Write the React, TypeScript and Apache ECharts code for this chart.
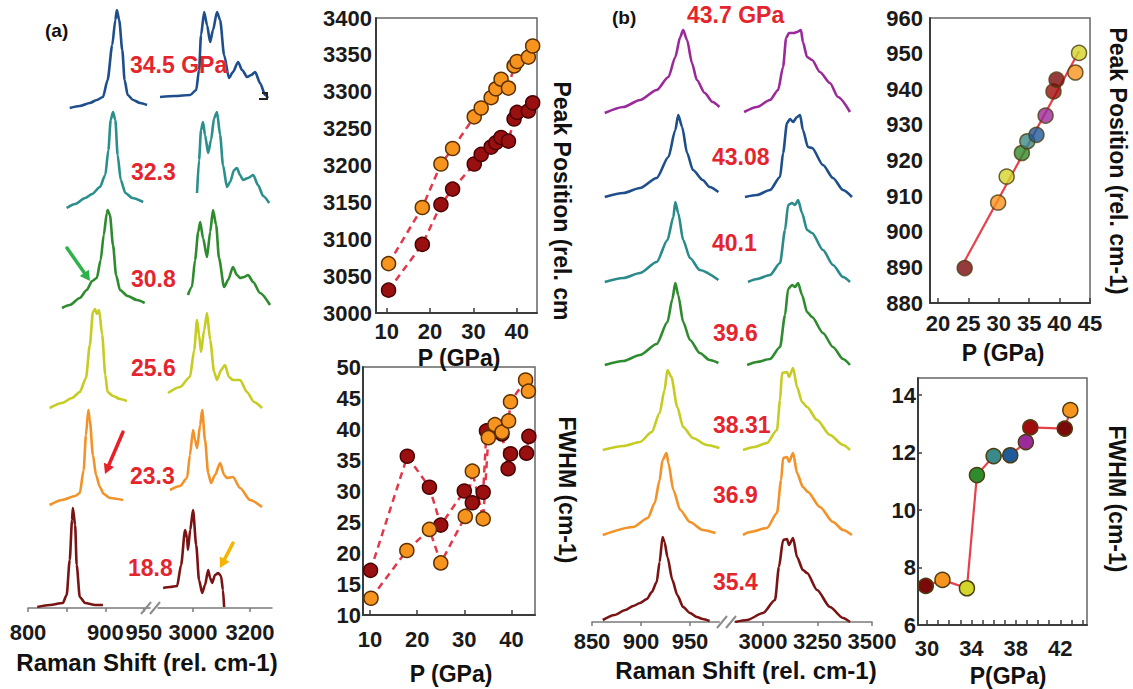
import React, { useEffect, useRef } from "react";
import * as echarts from "echarts";

type Pt = [number, number];

// ---------- (a) Raman spectra: [wavenumber (rel. cm-1), relative intensity] ----------
const aLabels = ["34.5 GPa", "32.3", "30.8", "25.6", "23.3", "18.8"];

const a345Low: Pt[] = [[854,-0.01],[867,0.01],[880,0.04],[889,0.07],[897,0.1],[903,0.27],[909,0.62],[913,0.87],[915,0.97],[918,0.87],[922,0.57],[925,0.27],[929,0.12],[936,0.07],[945,0.04],[954,0.02]];
const a345High: Pt[] = [[2884,0.1],[2937,0.11],[2990,0.12],[3011,0.17],[3021,0.37],[3028,0.72],[3039,0.95],[3049,0.82],[3060,0.65],[3070,0.77],[3084,0.95],[3095,0.87],[3109,0.52],[3126,0.29],[3140,0.35],[3158,0.45],[3172,0.37],[3190,0.3],[3204,0.32],[3218,0.35],[3235,0.24],[3253,0.12],[3263,0.09]];

const a323Low: Pt[] = [[850,-0.05],[861,-0.01],[874,0.05],[883,0.09],[893,0.16],[900,0.28],[904,0.53],[907,0.83],[910,0.91],[913,0.83],[916,0.48],[920,0.23],[926,0.1],[935,0.05],[949,0.01]];
const a323High: Pt[] = [[3014,0.1],[3021,0.43],[3028,0.73],[3035,0.81],[3042,0.68],[3053,0.5],[3063,0.63],[3074,0.85],[3084,0.91],[3095,0.68],[3105,0.38],[3119,0.16],[3130,0.21],[3144,0.33],[3154,0.35],[3165,0.28],[3175,0.23],[3193,0.25],[3211,0.28],[3228,0.18],[3246,0.07],[3267,0]];

const a308Low: Pt[] = [[844,-0.05],[854,-0.02],[867,0.05],[876,0.13],[883,0.22],[889,0.25],[894,0.43],[898,0.68],[902,0.9],[903,0.93],[906,0.88],[910,0.58],[914,0.28],[919,0.13],[929,0.07],[941,0.03],[951,0]];
const a308High: Pt[] = [[2982,0.08],[2996,0.16],[3007,0.43],[3018,0.71],[3025,0.81],[3035,0.65],[3049,0.46],[3060,0.71],[3070,0.93],[3081,0.78],[3091,0.45],[3109,0.16],[3123,0.23],[3140,0.36],[3154,0.28],[3165,0.25],[3179,0.26],[3193,0.28],[3211,0.21],[3235,0.1],[3270,-0.02]];

const a256Low: Pt[] = [[828,-0.08],[844,-0.03],[857,0.02],[867,0.08],[875,0.22],[880,0.55],[884,0.88],[887,0.91],[889,0.86],[892,0.9],[896,0.65],[900,0.25],[903,0.08],[910,0.04],[919,0.01],[928,-0.01]];
const a256High: Pt[] = [[2912,0.07],[2954,0.13],[2989,0.23],[3004,0.5],[3014,0.8],[3021,0.65],[3028,0.48],[3039,0.7],[3049,0.87],[3060,0.6],[3074,0.28],[3084,0.2],[3098,0.3],[3112,0.35],[3126,0.23],[3140,0.2],[3165,0.2],[3189,0.08],[3214,-0.02],[3242,-0.08]];

const a233Low: Pt[] = [[828,-0.05],[844,0],[861,0.04],[867,0.07],[872,0.3],[875,0.65],[878,0.9],[880,0.8],[884,0.45],[888,0.25],[893,0.13],[898,0.06],[906,0.02],[923,0]];
const a233High: Pt[] = [[2919,0.1],[2954,0.14],[2979,0.22],[2989,0.45],[3000,0.7],[3007,0.6],[3014,0.52],[3025,0.75],[3032,0.9],[3042,0.6],[3053,0.27],[3063,0.17],[3077,0.25],[3095,0.37],[3109,0.25],[3119,0.22],[3140,0.23],[3165,0.12],[3200,0],[3242,-0.07]];

const a188Low: Pt[] = [[812,-0.02],[828,0],[845,0.02],[850,0.1],[854,0.45],[857,0.85],[858,0.97],[861,0.8],[863,0.4],[867,0.08],[874,0.02],[887,0],[897,0]];
const a188High: Pt[] = [[2895,0.17],[2919,0.18],[2944,0.19],[2958,0.4],[2972,0.75],[2979,0.67],[2982,0.55],[2990,0.75],[3000,0.95],[3011,0.6],[3021,0.25],[3032,0.12],[3042,0.2],[3053,0.35],[3060,0.27],[3067,0.22],[3077,0.3],[3088,0.32],[3098,0.29],[3105,0.15],[3109,-0.02]];

const aLow = [a345Low, a323Low, a308Low, a256Low, a233Low, a188Low];
const aHigh = [a345High, a323High, a308High, a256High, a233High, a188High];
// vertical stacking of the traces (intensity units)
const aOffsets = [5.01, 4.05, 3.05, 2.08, 1.08, 0.03];
const aColors = ["#1f4e8c", "#2b8f8c", "#2e8b2e", "#c5cc22", "#f39228", "#7a1414"];

// ---------- (b) Raman spectra ----------
const bLabels = ["43.7 GPa", "43.08", "40.1", "39.6", "38.31", "36.9", "35.4"];

const b437Low: Pt[] = [[863,-0.01],[882,0.05],[899,0.12],[916,0.22],[928,0.35],[935,0.55],[940,0.75],[943,0.82],[947,0.72],[952,0.49],[957,0.32],[965,0.19],[973,0.1],[980,0.05]];
const b437High: Pt[] = [[2913,0],[2972,0.05],[3032,0.12],[3069,0.22],[3092,0.45],[3106,0.74],[3119,0.79],[3142,0.79],[3156,0.8],[3174,0.82],[3183,0.7],[3202,0.55],[3225,0.52],[3261,0.4],[3307,0.29],[3344,0.15],[3399,0]];

const b4308Low: Pt[] = [[863,0.01],[882,0.05],[899,0.1],[916,0.2],[928,0.41],[935,0.68],[938,0.83],[942,0.71],[947,0.45],[953,0.28],[963,0.18],[970,0.11],[979,0.06]];
const b4308High: Pt[] = [[2917,0.01],[2972,0.03],[3032,0.08],[3078,0.21],[3092,0.45],[3110,0.75],[3124,0.79],[3138,0.76],[3156,0.81],[3170,0.83],[3183,0.68],[3206,0.51],[3225,0.5],[3275,0.33],[3321,0.2],[3367,0.08],[3408,0.01]];

const b401Low: Pt[] = [[863,0],[882,0.04],[899,0.09],[916,0.2],[927,0.42],[933,0.65],[935,0.8],[938,0.69],[943,0.42],[950,0.24],[960,0.12],[979,0.02]];
const b401High: Pt[] = [[2931,0],[2972,0.03],[3032,0.07],[3078,0.19],[3101,0.52],[3115,0.77],[3133,0.79],[3147,0.77],[3161,0.82],[3179,0.69],[3202,0.52],[3225,0.49],[3275,0.32],[3321,0.17],[3367,0.05],[3399,0]];

const b396Low: Pt[] = [[863,0],[882,0.04],[899,0.1],[916,0.21],[927,0.43],[932,0.66],[935,0.82],[938,0.7],[943,0.43],[950,0.25],[960,0.12],[970,0.05],[979,0.02]];
const b396High: Pt[] = [[2927,0],[2972,0.03],[3032,0.06],[3078,0.18],[3101,0.5],[3115,0.76],[3133,0.8],[3147,0.78],[3161,0.82],[3179,0.7],[3202,0.53],[3225,0.48],[3275,0.32],[3321,0.18],[3367,0.06],[3399,0]];

const b3831Low: Pt[] = [[861,0],[882,0.04],[899,0.08],[911,0.18],[919,0.37],[924,0.6],[927,0.8],[931,0.73],[937,0.43],[943,0.23],[953,0.12],[967,0.05],[980,0.02]];
const b3831High: Pt[] = [[2908,0],[2960,0.03],[3018,0.07],[3064,0.2],[3078,0.5],[3087,0.77],[3110,0.78],[3119,0.73],[3138,0.82],[3156,0.63],[3179,0.48],[3202,0.43],[3248,0.3],[3307,0.15],[3367,0.05],[3399,0]];

const b369Low: Pt[] = [[861,0],[892,0.08],[907,0.17],[914,0.32],[919,0.55],[922,0.75],[926,0.82],[928,0.72],[933,0.45],[940,0.25],[950,0.13],[963,0.05],[976,0.02]];
const b369High: Pt[] = [[2908,0],[2940,0.03],[3018,0.07],[3064,0.22],[3083,0.55],[3092,0.77],[3110,0.78],[3119,0.73],[3138,0.82],[3156,0.62],[3183,0.48],[3206,0.43],[3261,0.28],[3321,0.13],[3367,0.05],[3408,0]];

const b354Low: Pt[] = [[861,0],[873,0.05],[884,0.1],[892,0.14],[899,0.17],[906,0.21],[911,0.28],[916,0.38],[919,0.58],[922,0.83],[924,0.78],[927,0.63],[932,0.4],[937,0.25],[943,0.13],[950,0.07],[957,0.03],[963,0.01],[970,-0.01]];
const b354High: Pt[] = [[2872,-0.02],[2927,0],[3000,0.07],[3055,0.2],[3073,0.53],[3092,0.8],[3110,0.81],[3119,0.75],[3138,0.82],[3156,0.63],[3183,0.5],[3202,0.47],[3248,0.3],[3307,0.13],[3367,0.02],[3399,-0.02]];

const bLow = [b437Low, b4308Low, b401Low, b396Low, b3831Low, b369Low, b354Low];
const bHigh = [b437High, b4308High, b401High, b396High, b3831High, b369High, b354High];
const bOffsets = [5.1, 4.24, 3.4, 2.57, 1.72, 0.87, 0.02];
const bColors = ["#9a2a9a", "#1f4e8c", "#2b8a8a", "#2e8b2e", "#c5cc22", "#f39228", "#7a1414"];

// ---------- (a) peak position and FWHM of the C-H band vs pressure ----------
const aPeakP = [10.4, 18.2, 22.5, 25.2, 30.2, 31.8, 34.1, 35.2, 36.4, 38.1, 39.4, 40.1, 42.7, 43.7];
const aPeakUpper = [3067, 3143, 3202, 3223, 3266, 3278, 3292, 3304, 3317, 3305, 3335, 3341, 3347, 3362];
const aPeakLower = [3031, 3093, 3147, 3168, 3202, 3215, 3225, 3231, 3238, 3233, 3263, 3272, 3274, 3285];

const aFwhmDarkP = [10.1, 17.9, 22.6, 25.0, 30.0, 31.7, 34.0, 34.7, 38.0, 39.3, 39.8, 43.2, 43.7];
const aFwhmDark = [17.2, 35.6, 30.6, 24.5, 30.0, 28.1, 29.8, 39.7, 39.2, 33.6, 36.0, 36.1, 38.8];
const aFwhmLightP = [10.2, 17.8, 22.6, 25.0, 30.2, 31.7, 34.0, 35.1, 36.5, 38.0, 39.4, 39.8, 43.0, 43.6];
const aFwhmLight = [12.7, 20.4, 23.8, 18.4, 25.9, 33.2, 25.5, 38.6, 40.7, 39.5, 41.3, 44.4, 47.9, 46.1];

// ---------- (b) peak position and FWHM of the ~900 cm-1 band vs pressure ----------
const bPeakP = [24.4, 29.9, 31.3, 33.8, 34.7, 36.2, 37.7, 39.0, 39.5, 42.6, 43.2];
const bPeak = [889.8, 908.2, 915.5, 922.1, 925.4, 927.2, 932.6, 939.4, 942.7, 944.7, 950.2];
const bFwhmP = [29.9, 31.4, 33.6, 34.5, 36.0, 37.5, 38.9, 39.3, 42.4, 42.9];
const bFwhm = [7.36, 7.57, 7.28, 11.22, 11.88, 11.91, 12.37, 12.88, 12.84, 13.48];

const markerCycle = ["#7a0a0a", "#f7941d", "#d2d62a", "#2e8b2e", "#3a8a8a", "#1f5a9a", "#9b2a9b", "#a00d0d"];

// tick labels
const aLowTicks = [800, 850, 900, 950];
const aLowLabels = [800, 900, 950];
const aHighTicks = [3000, 3200];
const bLowTicks = [850, 900, 950];
const bHighTicks = [3000, 3250, 3500];
const aPeakXTicks = [10, 20, 30, 40];
const aPeakYTicks = [3000, 3050, 3100, 3150, 3200, 3250, 3300, 3350, 3400];
const aFwhmYTicks = [10, 15, 20, 25, 30, 35, 40, 45, 50];
const bPeakXTicks = [20, 25, 30, 35, 40, 45];
const bPeakYTicks = [880, 890, 900, 910, 920, 930, 940, 950, 960];
const bFwhmXLabels = [30, 34, 38, 42];
const bFwhmXTicks = [30, 31, 32, 33, 34, 35, 36, 37, 38, 39, 40, 41, 42, 43, 44];
const bFwhmYTicks = [6, 8, 10, 12, 14];

const FONT = '"Liberation Sans", Arial, Helvetica, sans-serif';
const LABEL_RED = "#e5252d";

function linearFit(xs: number[], ys: number[]): Pt[] {
  const n = xs.length;
  const mx = xs.reduce((s, v) => s + v, 0) / n;
  const my = ys.reduce((s, v) => s + v, 0) / n;
  let sxy = 0;
  let sxx = 0;
  xs.forEach((x, i) => {
    sxy += (x - mx) * (ys[i] - my);
    sxx += (x - mx) * (x - mx);
  });
  const slope = sxy / sxx;
  const icpt = my - slope * mx;
  const x0 = Math.min(...xs);
  const x1 = Math.max(...xs);
  return [[x0, icpt + slope * x0], [x1, icpt + slope * x1]];
}

const plain = (v: number) => String(v);
const tickFont = { color: "#1a1a1a", fontSize: 22, fontWeight: "bold", fontFamily: FONT, formatter: plain, hideOverlap: false };

function specXAxis(gridIndex: number, min: number, max: number, ticks: number[], labels: number[], margin: number) {
  return {
    gridIndex, type: "value", min, max,
    axisLine: { show: true, onZero: false, lineStyle: { color: "#7a7a7a", width: 1.5 } },
    axisTick: { show: true, customValues: ticks, length: 4, lineStyle: { color: "#7a7a7a", width: 1.5 } },
    axisLabel: { customValues: labels, margin, showMinLabel: true, showMaxLabel: true, ...tickFont },
    splitLine: { show: false },
  };
}

function specYAxis(gridIndex: number, max: number) {
  return { gridIndex, type: "value", min: 0, max, show: false };
}

function plotXAxis(gridIndex: number, min: number, max: number, ticks: number[], labels: number[], margin: number) {
  return {
    gridIndex, type: "value", min, max,
    axisLine: { show: true, onZero: false, lineStyle: { color: "#3c3c3c", width: 2 } },
    axisTick: { show: true, inside: true, length: 5, customValues: ticks, lineStyle: { color: "#3c3c3c", width: 1.5 } },
    axisLabel: { customValues: labels, margin, showMinLabel: true, showMaxLabel: true, ...tickFont },
    splitLine: { show: false },
  };
}

function plotYAxis(gridIndex: number, min: number, max: number, labels: number[], margin: number, showTicks = false) {
  return {
    gridIndex, type: "value", min, max,
    axisLine: { show: true, onZero: false, lineStyle: { color: "#3c3c3c", width: 2 } },
    axisTick: { show: showTicks, inside: true, length: 4, customValues: labels, lineStyle: { color: "#3c3c3c", width: 1.5 } },
    axisLabel: { customValues: labels, margin, padding: [11, 0, 0, 0], showMinLabel: true, showMaxLabel: true, ...tickFont },
    splitLine: { show: false },
  };
}

function specLine(axis: number, pts: Pt[], offset: number, color: string) {
  return {
    type: "line", xAxisIndex: axis, yAxisIndex: axis,
    data: pts.map(([w, v]) => [w, v + offset]),
    symbol: "none", smooth: 0.25, smoothMonotone: "x", silent: true,
    lineStyle: { color, width: 2.6 }, z: 2,
  };
}

function text(x: number, y: number, str: string, opts: any = {}) {
  const align = opts.align ?? "center";
  return {
    type: "text", x, y, rotation: opts.rotation ?? 0, z: 20, silent: true,
    style: {
      text: str, fill: opts.color ?? "#111",
      fontSize: opts.size ?? 23, fontWeight: "bold", fontFamily: FONT,
      align, textAlign: align, verticalAlign: "middle", textVerticalAlign: "middle",
    },
  };
}

function arrow(x1: number, y1: number, x2: number, y2: number, color: string) {
  const dx = x2 - x1;
  const dy = y2 - y1;
  const len = Math.hypot(dx, dy);
  const ux = dx / len;
  const uy = dy / len;
  const head = 10;
  const half = 5.5;
  const bx = x2 - ux * head;
  const by = y2 - uy * head;
  return [
    { type: "line", z: 20, silent: true, shape: { x1, y1, x2: bx, y2: by }, style: { stroke: color, lineWidth: 3.5, lineCap: "round" } },
    {
      type: "polygon", z: 20, silent: true,
      shape: { points: [[x2, y2], [bx - uy * half, by + ux * half], [bx + uy * half, by - ux * half]] },
      style: { fill: color },
    },
  ];
}

function breakMark(x: number, y: number) {
  const s = { stroke: "#8c8c8c", lineWidth: 2 };
  return [
    { type: "line", z: 20, silent: true, shape: { x1: x, y1: y + 6, x2: x + 10, y2: y - 6 }, style: s },
    { type: "line", z: 20, silent: true, shape: { x1: x + 9, y1: y + 6, x2: x + 19, y2: y - 6 }, style: s },
  ];
}

function buildOption() {
  const series: any[] = [];
  aLow.forEach((pts, k) => {
    series.push(specLine(0, pts, aOffsets[k], aColors[k]));
    series.push(specLine(1, aHigh[k], aOffsets[k], aColors[k]));
  });
  bLow.forEach((pts, k) => {
    series.push(specLine(2, pts, bOffsets[k], bColors[k]));
    series.push(specLine(3, bHigh[k], bOffsets[k], bColors[k]));
  });

  const dashed = { color: "#e2384a", width: 2.5, type: [7, 5] };
  const lightDot = { color: "#f7941d", borderColor: "#5c3000", borderWidth: 1.5 };
  const darkDot = { color: "#9a1010", borderColor: "#4a0000", borderWidth: 1.5 };

  series.push({
    type: "line", xAxisIndex: 4, yAxisIndex: 4, symbol: "circle", symbolSize: 14,
    data: aPeakP.map((p, i) => [p, aPeakLower[i]]), lineStyle: dashed, itemStyle: darkDot, z: 3,
  });
  series.push({
    type: "line", xAxisIndex: 4, yAxisIndex: 4, symbol: "circle", symbolSize: 14,
    data: aPeakP.map((p, i) => [p, aPeakUpper[i]]), lineStyle: dashed, itemStyle: lightDot, z: 3,
  });
  series.push({
    type: "line", xAxisIndex: 5, yAxisIndex: 5, symbol: "circle", symbolSize: 14,
    data: aFwhmDarkP.map((p, i) => [p, aFwhmDark[i]]), lineStyle: dashed, itemStyle: darkDot, z: 3,
  });
  series.push({
    type: "line", xAxisIndex: 5, yAxisIndex: 5, symbol: "circle", symbolSize: 14,
    data: aFwhmLightP.map((p, i) => [p, aFwhmLight[i]]), lineStyle: dashed, itemStyle: lightDot, z: 3,
  });

  series.push({
    type: "line", xAxisIndex: 6, yAxisIndex: 6, symbol: "none",
    data: linearFit(bPeakP, bPeak), lineStyle: { color: "#e8404a", width: 2.2 }, z: 2,
  });
  series.push({
    type: "scatter", xAxisIndex: 6, yAxisIndex: 6, symbolSize: 15, z: 3,
    data: bPeakP.map((p, i) => ({
      value: [p, bPeak[i]],
      itemStyle: { color: markerCycle[i % markerCycle.length], borderColor: "#4d3d12", borderWidth: 1.5 },
    })),
  });
  series.push({
    type: "line", xAxisIndex: 7, yAxisIndex: 7, symbol: "circle", symbolSize: 15, z: 3,
    lineStyle: { color: "#e8404a", width: 2.2 },
    data: bFwhmP.map((p, i) => ({
      value: [p, bFwhm[i]],
      itemStyle: { color: markerCycle[i % markerCycle.length], borderColor: "#4d3d12", borderWidth: 1.5 },
    })),
  });

  const box = { show: true, borderColor: "#666", borderWidth: 1.5 };

  const graphic: any[] = [
    text(45, 30, "(a)", { align: "left", size: 19 }),
    text(612, 17, "(b)", { align: "left", size: 19 }),
  ];
  const aLabelPos = [[130, 65], [131, 172], [131, 279], [131, 368], [130, 476], [128, 568]];
  aLabels.forEach((s, i) => graphic.push(text(aLabelPos[i][0], aLabelPos[i][1], s, { align: "left", color: LABEL_RED })));
  const bLabelPos = [[687, 15], [712, 157], [712, 243], [713, 333], [713, 425], [713, 495], [713, 582]];
  bLabels.forEach((s, i) => graphic.push(text(bLabelPos[i][0], bLabelPos[i][1], s, { align: "left", color: LABEL_RED })));

  graphic.push(text(147, 662, "Raman Shift (rel. cm-1)", { size: 24 }));
  graphic.push(text(746, 670, "Raman Shift (rel. cm-1)", { size: 24 }));
  graphic.push(text(459, 358, "P (GPa)"));
  graphic.push(text(451, 674, "P (GPa)"));
  graphic.push(text(1003, 353, "P (GPa)"));
  graphic.push(text(1008, 676, "P(GPa)"));
  graphic.push(text(562, 201, "Peak Position (rel. cm", { rotation: -Math.PI / 2 }));
  graphic.push(text(567, 490, "FWHM (cm-1)", { rotation: -Math.PI / 2 }));
  graphic.push(text(1118, 161, "Peak Position (rel. cm-1)", { rotation: -Math.PI / 2 }));
  graphic.push(text(1117, 499, "FWHM (cm-1)", { rotation: -Math.PI / 2 }));

  graphic.push(...arrow(67, 248, 90, 281, "#2db34a"));
  graphic.push(...arrow(123, 432, 105, 474, "#e8202a"));
  graphic.push(...arrow(233, 543, 220, 568, "#f5b400"));
  graphic.push(...breakMark(141, 608));
  graphic.push(...breakMark(717, 622));
  graphic.push({
    type: "polyline", z: 20, silent: true,
    shape: { points: [[262, 93], [267, 93], [267, 99], [259, 99]] },
    style: { stroke: "#222", lineWidth: 2, fill: "none" },
  });

  return {
    animation: false,
    backgroundColor: "#ffffff",
    grid: [
      { left: 28, top: 0, width: 122.1, height: 608 },
      { left: 158, top: 0, width: 114, height: 608 },
      { left: 592, top: 0, width: 127.4, height: 622 },
      { left: 734.7, top: 0, width: 137.3, height: 622 },
      { left: 376, top: 18, width: 161, height: 295, ...box },
      { left: 363, top: 367, width: 172, height: 248, ...box },
      { left: 930, top: 18, width: 160, height: 285, ...box },
      { left: 918, top: 378, width: 169, height: 247, ...box },
    ],
    xAxis: [
      specXAxis(0, 800, 958, aLowTicks, aLowLabels, 13),
      specXAxis(1, 2877, 3277, aHighTicks, aHighTicks, 13),
      specXAxis(2, 850, 980, bLowTicks, bLowTicks, 8),
      specXAxis(3, 2870, 3500, bHighTicks, bHighTicks, 8),
      plotXAxis(4, 7.5, 44.7, aPeakXTicks, aPeakXTicks, 7),
      plotXAxis(5, 8.5, 45, aPeakXTicks, aPeakXTicks, 13),
      plotXAxis(6, 18.7, 45, bPeakXTicks, bPeakXTicks, 9),
      plotXAxis(7, 29.2, 44.4, bFwhmXTicks, bFwhmXLabels, 12),
    ],
    yAxis: [
      specYAxis(0, 6.08),
      specYAxis(1, 6.08),
      specYAxis(2, 6.22),
      specYAxis(3, 6.22),
      plotYAxis(4, 3000, 3400, aPeakYTicks, 4),
      plotYAxis(5, 10, 50, aFwhmYTicks, 2),
      plotYAxis(6, 880, 960, bPeakYTicks, 7),
      plotYAxis(7, 6, 14.6, bFwhmYTicks, 2, true),
    ],
    series,
    graphic,
  };
}

export default function App() {
  const ref = useRef<HTMLDivElement>(null);
  useEffect(() => {
    if (!ref.current) return;
    const chart = echarts.init(ref.current, undefined, { renderer: "svg" });
    chart.setOption(buildOption() as any);
    return () => chart.dispose();
  }, []);
  return (
    <div
      ref={ref}
      style={{ position: "absolute", left: 0, top: 0, width: 1133, height: 689, background: "#ffffff" }}
    />
  );
}
